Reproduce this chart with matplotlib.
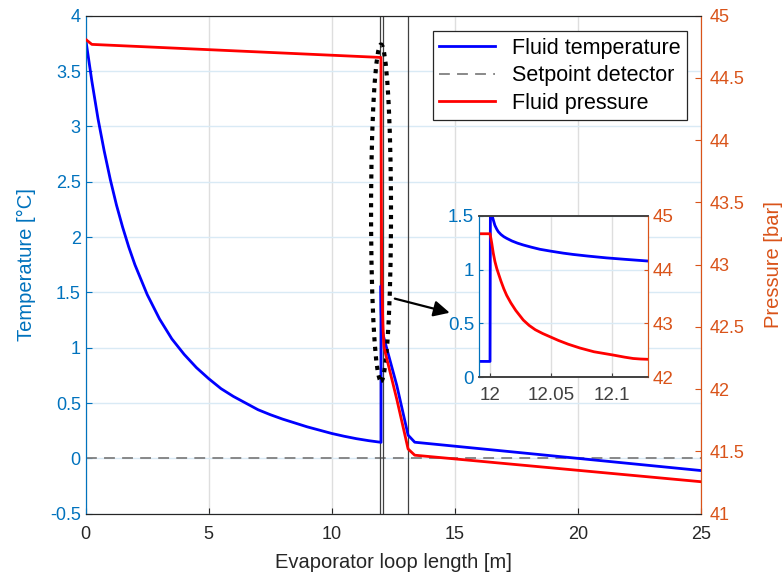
import matplotlib.pyplot as plt
import numpy as np
from matplotlib.patches import Ellipse

plt.rcParams['font.family'] = ['Liberation Sans', 'DejaVu Sans']

# Fluid temperature along the evaporator loop
temp_x = [0.0, 0.25, 0.5, 0.75, 1.0, 1.25, 1.5, 1.75, 2.0, 2.5, 3.0, 3.5, 4.0, 4.5, 5.0, 5.5, 6.0, 6.5,
          7.0, 7.5, 8.0, 8.5, 9.0, 9.5, 10.0, 10.5, 11.0, 11.5, 12.0,
          12.0003, 12.0027, 12.004, 12.0055, 12.0068, 12.009, 12.0113, 12.0136, 12.018, 12.0225,
          12.0272, 12.034, 12.0408, 12.05, 12.06, 12.068, 12.08, 12.0953, 12.11, 12.1288,
          12.64, 13.1, 13.37, 25.0]
temp_y = [3.79, 3.41, 3.07, 2.78, 2.52, 2.29, 2.09, 1.91, 1.75, 1.48, 1.26, 1.08, 0.94, 0.82, 0.72, 0.63, 0.56, 0.5,
          0.44, 0.395, 0.355, 0.32, 0.285, 0.255, 0.225, 0.2, 0.178, 0.16, 0.145,
          1.56, 1.46, 1.41, 1.375, 1.351, 1.325, 1.305, 1.29, 1.265, 1.245,
          1.228, 1.207, 1.188, 1.17, 1.152, 1.14, 1.125, 1.108, 1.095, 1.079,
          0.66, 0.21, 0.146, -0.11]

# Fluid pressure
pres_x = [0.0, 0.25, 12.0, 12.0007, 12.0014, 12.002, 12.0027, 12.004, 12.0055, 12.0068, 12.009, 12.0113,
          12.0136, 12.017, 12.021, 12.0272, 12.032, 12.037, 12.043, 12.049, 12.056, 12.064, 12.0735,
          12.085, 12.1005, 12.11, 12.117, 12.123, 12.1288, 12.64, 13.1, 13.37, 25.0]
pres_y = [44.81, 44.77, 44.665, 44.58, 44.49, 44.4, 44.3, 44.15, 44.02, 43.93, 43.78, 43.64,
          43.52, 43.38, 43.24, 43.06, 42.96, 42.88, 42.81, 42.75, 42.68, 42.61, 42.54,
          42.47, 42.41, 42.37, 42.345, 42.335, 42.33, 41.92, 41.52, 41.47, 41.257]

setpoint = 0.0
marker_x = [11.96, 12.09, 13.1]

c_left = '#0072BD'
c_right = '#D95319'
c_dark = '#262626'

fig = plt.figure(figsize=(7.84, 5.75), dpi=100)
ax = fig.add_axes([0.1093, 0.1066, 0.7848, 0.866])
ax2 = ax.twinx()

l1, = ax.plot(temp_x, temp_y, color='blue', lw=2, label='Fluid temperature', zorder=3)
l2 = ax.axhline(setpoint, color='gray', lw=1.3, ls=(0, (6, 4)), label='Setpoint detector', zorder=2)
for mx in marker_x:
    ax.axvline(mx, color='#404040', lw=0.9, zorder=2)
l3, = ax2.plot(pres_x, pres_y, color='red', lw=2, label='Fluid pressure', zorder=3)

ax.set_xlim(0, 25)
ax.set_ylim(-0.5, 4)
ax2.set_ylim(41, 45)
ax.set_xticks(np.arange(0, 26, 5))
ax.set_yticks(np.arange(-0.5, 4.01, 0.5))
ax.set_yticklabels(['-0.5', '0', '0.5', '1', '1.5', '2', '2.5', '3', '3.5', '4'])
ax2.set_yticks(np.arange(41, 45.01, 0.5))
ax2.set_yticklabels(['41', '41.5', '42', '42.5', '43', '43.5', '44', '44.5', '45'])

ax.grid(axis='y', color='#D9EAF5', lw=1)
ax.grid(axis='x', color='#DEDEDE', lw=1)
ax.set_axisbelow(True)

ax.set_xlabel('Evaporator loop length [m]', fontsize=14.5, color=c_dark, labelpad=7)
ax.set_ylabel('Temperature [°C]', fontsize=14.5, color=c_left, labelpad=10)
ax2.set_ylabel('Pressure [bar]', fontsize=14.5, color=c_right, labelpad=14)

ax.tick_params(axis='x', direction='in', length=4, labelsize=13, colors=c_dark, pad=9)
ax.tick_params(axis='y', direction='in', length=4, labelsize=13, colors=c_left)
ax2.tick_params(axis='y', direction='in', length=4, labelsize=13, colors=c_right, pad=6)
for a in (ax, ax2):
    a.spines['left'].set_color(c_left)
    a.spines['right'].set_color(c_right)
    a.spines['top'].set_color(c_dark)
    a.spines['bottom'].set_color(c_dark)

# dotted ellipse around the jump + arrow to the zoom
ell = Ellipse((12.0, 2.22), 0.81, 3.04, fill=False, ls=(0, (1, 1.3)), lw=3, ec='black', zorder=5)
ax.add_patch(ell)
ax.annotate('', xy=(14.9, 1.31), xytext=(12.45, 1.45),
            arrowprops=dict(arrowstyle='-|>', color='black', lw=1.6, mutation_scale=24), zorder=5)

leg = ax2.legend([l1, l2, l3], ['Fluid temperature', 'Setpoint detector', 'Fluid pressure'],
                 loc='upper right', bbox_to_anchor=(0.978, 0.969), borderaxespad=0,
                 fontsize=15.5, handlelength=2.6, fancybox=False, framealpha=1,
                 edgecolor=c_dark, labelspacing=0.3, borderpad=0.3)
leg.get_frame().set_linewidth(0.9)

# zoomed inset
axi = fig.add_axes([0.611, 0.3443, 0.2152, 0.2805])
axi2 = axi.twinx()
axi.plot(temp_x, temp_y, color='blue', lw=2)
axi2.plot(pres_x, pres_y, color='red', lw=2)
axi.set_xlim(11.991, 12.129)
axi.set_ylim(0, 1.5)
axi2.set_ylim(42, 45)
axi.set_xticks([12, 12.05, 12.1])
axi.set_xticklabels(['12', '12.05', '12.1'])
axi.set_yticks([0, 0.5, 1, 1.5])
axi.set_yticklabels(['0', '0.5', '1', '1.5'])
axi2.set_yticks([42, 43, 44, 45])
axi.grid(axis='y', color='#D9EAF5', lw=1)
axi.grid(axis='x', color='#DEDEDE', lw=1)
axi.set_axisbelow(True)
axi.tick_params(axis='x', direction='in', length=3, labelsize=13.5, colors='#404040', pad=7)
axi.tick_params(axis='y', direction='in', length=3, labelsize=13.5, colors=c_left)
axi2.tick_params(axis='y', direction='in', length=3, labelsize=13.5, colors=c_right)
for a in (axi, axi2):
    a.spines['left'].set_color(c_left)
    a.spines['right'].set_color(c_right)
    a.spines['top'].set_color('#404040')
    a.spines['bottom'].set_color('#404040')
    a.spines['top'].set_linewidth(1.2)
    a.spines['bottom'].set_linewidth(1.2)

fig.savefig('out.png', dpi=100)
